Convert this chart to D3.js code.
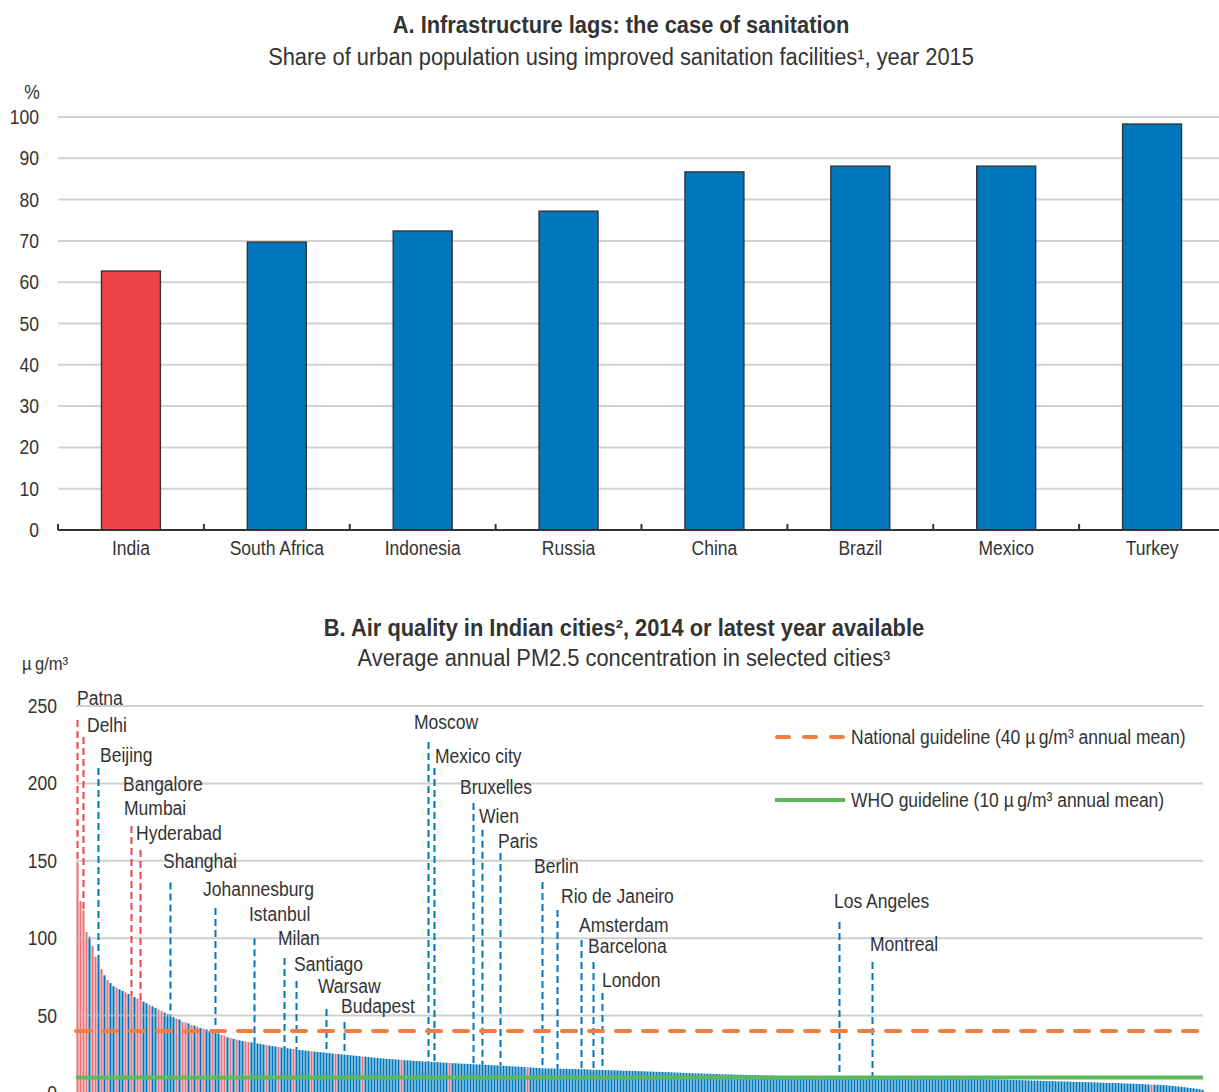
<!DOCTYPE html>
<html>
<head>
<meta charset="utf-8">
<script src="https://cdn.jsdelivr.net/npm/d3@7"></script>
<style>
  body { margin: 0; background: #fff; overflow: hidden; }
  svg text { font-family: "Liberation Sans Narrow", "Arial Narrow", "Liberation Sans", sans-serif; fill: #333; }
</style>
</head>
<body>
<svg id="chart" width="1219" height="1092"></svg>
<script>
// ---- Panel A: urban sanitation, 2015 ----
const countries = ["India", "South Africa", "Indonesia", "Russia", "China", "Brazil", "Mexico", "Turkey"];
const sanitationShare = [62.7, 69.7, 72.4, 77.2, 86.7, 88.1, 88.1, 98.3];
const sanitationTicks = [0, 10, 20, 30, 40, 50, 60, 70, 80, 90, 100];

// ---- Panel B: PM2.5 concentration by city, sorted from highest to lowest ----
const pm25 = [
  149, 124, 118, 104, 101, 95, 88, 85, 80, 76, 73, 71, 69, 68, 67, 66, 65, 64, 63, 62,
  61, 60, 59, 58, 57, 56, 55, 54, 53, 52, 51, 50, 49, 48, 47.5, 46, 45.5, 45, 44, 43.5,
  43, 42, 41.5, 41, 40, 39.5, 39, 38.5, 37.5, 37, 36, 35.5, 35, 34.5, 34, 33.6, 33.3, 33, 32.7, 32.3,
  32, 31.7, 31.3, 31, 30.6, 30.3, 30, 29.7, 29.4, 29.1, 28.9, 28.6, 28.4, 28.1, 27.9, 27.6, 27.4, 27.2, 27, 26.8,
  26.6, 26.4, 26.2, 26, 25.8, 25.6, 25.4, 25.2, 25, 24.8, 24.6, 24.4, 24.2, 24, 23.8, 23.6, 23.4, 23.2, 23, 22.8,
  22.6, 22.4, 22.3, 22.1, 22, 21.8, 21.7, 21.5, 21.4, 21.2, 21.1, 21, 20.8, 20.7, 20.6, 20.4, 20.3, 20.2, 20.1, 20,
  19.9, 19.7, 19.6, 19.5, 19.4, 19.3, 19.2, 19.1, 19, 18.9, 18.8, 18.7, 18.6, 18.5, 18.4, 18.3, 18.2, 18.1, 18, 17.9,
  17.8, 17.7, 17.6, 17.5, 17.3, 17.2, 17.1, 17, 16.8, 16.7, 16.6, 16.5, 16.3, 16.2, 16.1, 16, 15.9, 15.9, 15.8, 15.8,
  15.7, 15.7, 15.6, 15.6, 15.5, 15.5, 15.4, 15.4, 15.3, 15.3, 15.2, 15.1, 15, 15, 14.9, 14.9, 14.8, 14.8, 14.7, 14.7,
  14.6, 14.5, 14.4, 14.4, 14.3, 14.3, 14.2, 14.1, 14.1, 14, 13.9, 13.9, 13.8, 13.7, 13.7, 13.6, 13.5, 13.5, 13.4, 13.3,
  13.2, 13.1, 13, 12.9, 12.9, 12.8, 12.7, 12.7, 12.6, 12.5, 12.5, 12.4, 12.3, 12.3, 12.2, 12.1, 12.1, 12, 12, 11.9,
  11.8, 11.8, 11.7, 11.7, 11.6, 11.5, 11.5, 11.4, 11.4, 11.3, 11.3, 11.2, 11.2, 11.1, 11, 11, 10.9, 10.9, 10.9, 10.8,
  10.8, 10.8, 10.7, 10.7, 10.7, 10.6, 10.6, 10.6, 10.6, 10.5, 10.5, 10.5, 10.5, 10.4, 10.4, 10.4, 10.4, 10.3, 10.3, 10.3,
  10.3, 10.2, 10.2, 10.2, 10.2, 10.1, 10.1, 10.1, 10.1, 10.1, 10, 10, 10, 10, 10, 9.9, 9.9, 9.8, 9.8, 9.8,
  9.7, 9.7, 9.7, 9.6, 9.6, 9.6, 9.5, 9.5, 9.5, 9.4, 9.4, 9.4, 9.3, 9.3, 9.3, 9.2, 9.2, 9.1, 9.1, 9.1,
  9, 9, 8.9, 8.9, 8.9, 8.8, 8.8, 8.7, 8.7, 8.6, 8.6, 8.5, 8.4, 8.4, 8.3, 8.3, 8.2, 8.1, 8.1, 8,
  8, 7.9, 7.8, 7.8, 7.7, 7.7, 7.6, 7.5, 7.5, 7.4, 7.4, 7.3, 7.2, 7.2, 7.1, 7.1, 7, 7, 6.9, 6.9,
  6.8, 6.7, 6.6, 6.6, 6.5, 6.5, 6.4, 6.4, 6.3, 6.2, 6.1, 6.1, 6, 5.9, 5.8, 5.7, 5.6, 5.5, 5.4, 5.4,
  5.3, 5.2, 5.1, 5, 4.8, 4.6, 4.4, 4.2, 4, 3.8, 3.5, 3.2, 3, 2.7, 2.4, 2
];
// positions (in the sorted list) of the Indian cities
const indianCities = [0, 1, 2, 3, 5, 6, 8, 10, 13, 16, 18, 20, 21, 24, 27, 28, 33, 35, 36, 38,
  40, 42, 45, 48, 49, 51, 53, 56, 57, 63, 67, 72, 78, 86, 95, 108, 124, 150, 358];
const pmTicks = [0, 50, 100, 150, 200, 250];
const nationalGuideline = 40;
const whoGuideline = 10;

// highlighted cities and where they sit in the sorted list
const cityNames = ["Patna", "Delhi", "Beijing", "Bangalore", "Mumbai", "Hyderabad", "Shanghai",
  "Johannesburg", "Istanbul", "Milan", "Santiago", "Warsaw", "Budapest", "Moscow", "Mexico city",
  "Bruxelles", "Wien", "Paris", "Berlin", "Rio de Janeiro", "Amsterdam", "Barcelona", "London",
  "Los Angeles", "Montreal"];
const cityRank = [0, 2, 7, 14, 18, 21, 31, 46, 59, 69, 73, 83, 89, 117, 119, 132, 135, 141, 155,
  160, 168, 172, 175, 254, 265];
// label layout, in µg/m³ on the value axis, plus a horizontal nudge in px
const labelLevel = [255.2, 237.7, 218.3, 199.6, 184, 168, 150, 131.8, 115.6, 100, 83.3, 69.1, 56.2,
  239.7, 217.7, 197.7, 179, 162.8, 146.6, 127.3, 108.5, 95, 73, 124, 96.3];
const leaderTop = [241, 230, 210, null, 172.5, 157, 136, 119.5, 100, 87.2, 72.4, 54.3, 45.9,
  226.7, 210, 187.3, 170, 155, 136.3, 118.2, 98.8, 84.6, 64.6, 110.5, 84.6];
const labelNudge = [-0.5, 3.5, 1.5, 3.5, -7.5, -4.5, -7.5, -12.5, -5.5, -6.5, -2.5, -8.5, -3.5,
  -14.5, 0.5, -13.5, -3.5, -2.5, -8.5, 3.5, -2.5, -5.5, -0.5, -5.5, -2.5];

const BLUE = "#0077bd", RED = "#ef434b", PINK = "#ec7279", ORANGE = "#f47c3c", GREEN = "#5db85b", GRID = "#d2d2d2";

const svg = d3.select("#chart");

// squeeze a text run horizontally to a condensed face
function condense(sel, factor) {
  sel.each(function () {
    const w = this.getComputedTextLength();
    d3.select(this).attr("textLength", w * factor).attr("lengthAdjust", "spacingAndGlyphs");
  });
}

// ================= Panel A =================
const xA = d3.scaleBand().domain(countries).range([58, 1225]).paddingInner(0.596).paddingOuter(0.298);
const yA = d3.scaleLinear().domain([0, 100]).range([530, 117]);
const gA = svg.append("g");

gA.append("text").attr("class", "title").attr("x", 621).attr("y", 25).attr("text-anchor", "middle")
  .attr("dominant-baseline", "central").style("font-size", "23px").style("font-weight", "bold")
  .text("A. Infrastructure lags: the case of sanitation");
gA.append("text").attr("class", "title").attr("x", 621).attr("y", 57).attr("text-anchor", "middle")
  .attr("dominant-baseline", "central").style("font-size", "23px")
  .text("Share of urban population using improved sanitation facilities¹, year 2015");

gA.append("g").selectAll("line").data(sanitationTicks.filter(d => d > 0)).join("line")
  .attr("x1", 58).attr("x2", 1219).attr("y1", d => yA(d)).attr("y2", d => yA(d))
  .attr("stroke", GRID).attr("stroke-width", 2);

gA.append("g").selectAll("text").data(sanitationTicks).join("text")
  .attr("x", 39).attr("y", d => yA(d)).attr("text-anchor", "end").attr("dominant-baseline", "central")
  .style("font-size", "20px").text(d => d);
gA.append("text").attr("x", 32).attr("y", 92).attr("text-anchor", "middle")
  .attr("dominant-baseline", "central").style("font-size", "20px").text("%");

gA.append("g").selectAll("rect").data(countries).join("rect")
  .attr("x", d => xA(d)).attr("width", xA.bandwidth())
  .attr("y", (d, i) => yA(sanitationShare[i]))
  .attr("height", (d, i) => yA(0) - yA(sanitationShare[i]))
  .attr("fill", d => d === "India" ? RED : BLUE)
  .attr("stroke", "#333").attr("stroke-width", 1.4);

// category axis with ticks between the bands
const axisA = gA.append("g");
axisA.append("line").attr("x1", 58).attr("x2", 1219).attr("y1", 530).attr("y2", 530)
  .attr("stroke", "#333").attr("stroke-width", 2);
axisA.selectAll("line.tick").data(countries).join("line").attr("class", "tick")
  .attr("x1", d => xA(d) - xA.step() * xA.paddingInner() / 2)
  .attr("x2", d => xA(d) - xA.step() * xA.paddingInner() / 2)
  .attr("y1", 530).attr("y2", 524).attr("stroke", "#333").attr("stroke-width", 2);
axisA.selectAll("text").data(countries).join("text")
  .attr("x", d => xA(d) + xA.bandwidth() / 2).attr("y", 548)
  .attr("text-anchor", "middle").attr("dominant-baseline", "central")
  .style("font-size", "20px").text(d => d);

// ================= Panel B =================
const xB = d3.scaleBand().domain(d3.range(pm25.length)).range([76, 1204]).paddingInner(0.3).paddingOuter(0.15);
const yB = d3.scaleLinear().domain([0, 250]).range([1093, 706]);
const gB = svg.append("g");
const indianSet = new Set(indianCities);

gB.append("text").attr("class", "title").attr("x", 624).attr("y", 628).attr("text-anchor", "middle")
  .attr("dominant-baseline", "central").style("font-size", "23px").style("font-weight", "bold")
  .text("B. Air quality in Indian cities², 2014 or latest year available");
gB.append("text").attr("class", "title").attr("x", 624).attr("y", 658).attr("text-anchor", "middle")
  .attr("dominant-baseline", "central").style("font-size", "23px")
  .text("Average annual PM2.5 concentration in selected cities³");
gB.append("text").attr("x", 22).attr("y", 663).attr("dominant-baseline", "central")
  .style("font-size", "19px").text("µ\u2009g/m³");

gB.append("g").selectAll("text").data(pmTicks).join("text")
  .attr("x", 57).attr("y", d => yB(d)).attr("text-anchor", "end").attr("dominant-baseline", "central")
  .style("font-size", "20px").text(d => d);

// city bars
gB.append("g").selectAll("rect").data(pm25).join("rect")
  .attr("x", (d, i) => xB(i)).attr("width", xB.bandwidth())
  .attr("y", d => yB(d)).attr("height", d => yB(0) - yB(d))
  .attr("fill", (d, i) => indianSet.has(i) ? PINK : BLUE);

// grid over the bars
gB.append("g").selectAll("line").data(pmTicks.filter(d => d > 0)).join("line")
  .attr("x1", 76).attr("x2", 1203).attr("y1", d => yB(d)).attr("y2", d => yB(d))
  .attr("stroke", "#bbb").attr("stroke-opacity", 0.7).attr("stroke-width", 2);

// leader lines and city names
const cities = cityNames.map((name, k) => ({
  name, rank: cityRank[k], level: labelLevel[k], top: leaderTop[k], nudge: labelNudge[k],
  indian: indianSet.has(cityRank[k])
}));
const cx = d => xB(d.rank) + xB.bandwidth() / 2;
gB.append("g").selectAll("line").data(cities.filter(d => d.top !== null)).join("line")
  .attr("x1", cx).attr("x2", cx)
  .attr("y1", d => yB(d.top)).attr("y2", d => yB(pm25[d.rank]))
  .attr("stroke", d => d.indian ? RED : BLUE).attr("stroke-width", 2)
  .attr("stroke-dasharray", "7,4");
gB.append("g").selectAll("text").data(cities).join("text")
  .attr("x", d => cx(d) + d.nudge).attr("y", d => yB(d.level))
  .attr("dominant-baseline", "central").style("font-size", "20px").text(d => d.name);

// guideline references
gB.append("line").attr("x1", 76).attr("x2", 1203)
  .attr("y1", yB(nationalGuideline)).attr("y2", yB(nationalGuideline))
  .attr("stroke", ORANGE).attr("stroke-width", 4).attr("stroke-linecap", "round")
  .attr("stroke-dasharray", "14,13");
gB.append("line").attr("x1", 76).attr("x2", 1203)
  .attr("y1", yB(whoGuideline)).attr("y2", yB(whoGuideline))
  .attr("stroke", GREEN).attr("stroke-width", 4);

// legend
const legend = gB.append("g");
legend.append("line").attr("x1", 777).attr("x2", 843).attr("y1", 737).attr("y2", 737)
  .attr("stroke", ORANGE).attr("stroke-width", 4).attr("stroke-linecap", "round")
  .attr("stroke-dasharray", "12,15");
legend.append("text").attr("x", 851).attr("y", 737).attr("dominant-baseline", "central")
  .style("font-size", "20px").text("National guideline (40 µ\u2009g/m³ annual mean)");
legend.append("line").attr("x1", 775).attr("x2", 845).attr("y1", 800).attr("y2", 800)
  .attr("stroke", GREEN).attr("stroke-width", 4);
legend.append("text").attr("x", 851).attr("y", 800).attr("dominant-baseline", "central")
  .style("font-size", "20px").text("WHO guideline (10 µ\u2009g/m³ annual mean)");

// condensed lettering throughout
condense(svg.selectAll("text.title"), 0.95);
condense(svg.selectAll("text:not(.title)"), 0.875);
</script>
</body>
</html>
